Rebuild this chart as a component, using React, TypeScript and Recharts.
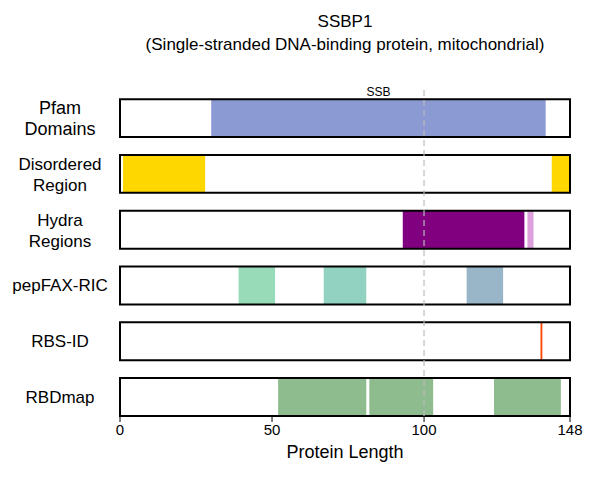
import React from "react";
import { ComposedChart, XAxis, YAxis, ReferenceArea, ReferenceLine, Label, Line } from "recharts";

const tracks = ["Pfam\nDomains", "Disordered\nRegion", "Hydra\nRegions", "pepFAX-RIC", "RBS-ID", "RBDmap"];
const segStart = [30, 1, 142, 93, 134, 39, 67, 114, 138.3, 52, 82, 123];
const segEnd = [140, 28, 148, 133, 136, 51, 81, 126, 138.9, 81, 103, 145];
const segTrack = [0, 1, 1, 2, 2, 3, 3, 3, 4, 5, 5, 5];
const segColor = ["#8c9ad4", "#ffd700", "#ffd700", "#800080", "#dda0dd", "#98dbb8", "#91d3c0", "#98b6c8", "#ff4500", "#8fbc8f", "#8fbc8f", "#8fbc8f"];
const xTicks = [0, 50, 100, 148];
const H = 0.68;
const font = "'Liberation Sans', Arial, sans-serif";
const anchor = xTicks.map((x) => ({ x, y: 0 }));

const TrackTick = (props: any) => {
  const { x, y, payload } = props;
  const i = Math.round(payload.value - H / 2);
  const lines = tracks[i].split("\n");
  const big = i === 0;
  return (
    <text x={x - 52} y={y} textAnchor="middle" fontSize={big ? 18 : 17} fill="#000"
      fontFamily={big ? font : "'Liberation Sans Narrow', 'Arial Narrow', sans-serif"}>
      {lines.map((l, k) => (
        <tspan key={k} x={x - 52} dy={k === 0 ? (lines.length === 1 ? 6 : -4) : 21}>{l}</tspan>
      ))}
    </text>
  );
};

export default function App() {
  return (
    <div style={{ position: "absolute", left: 0, top: 0, width: 600, height: 480, background: "#fff", fontFamily: font }}>
      <div style={{ position: "absolute", left: 45, width: 600, top: 10, textAlign: "center", fontSize: 17, lineHeight: "23px" }}>
        SSBP1<br />(Single-stranded DNA-binding protein, mitochondrial)
      </div>
      <ComposedChart width={600} height={480} data={anchor} margin={{ top: 88, right: 30, bottom: 22, left: 8 }}
        style={{ position: "absolute", left: 0, top: 0 }}>
        <XAxis type="number" dataKey="x" domain={[0, 148]} ticks={xTicks} axisLine={false}
          tick={{ fill: "#000", fontSize: 15, fontFamily: font }} tickSize={6} tickLine={{ stroke: "#000" }} height={42}>
          <Label value="Protein Length" position="insideBottom" offset={0} fill="#000" fontSize={18} fontFamily={font} />
        </XAxis>
        <YAxis type="number" dataKey="y" domain={[-0.2, 5 + H]} reversed width={112} axisLine={false} tickLine={false}
          ticks={tracks.map((_, i) => i + H / 2)} tick={<TrackTick />} interval={0} />
        <Line dataKey="y" stroke="none" dot={false} isAnimationActive={false} />
        {segStart.map((s, k) => (
          <ReferenceArea key={"s" + k} x1={s} x2={segEnd[k]} y1={segTrack[k]} y2={segTrack[k] + H}
            fill={segColor[k]} fillOpacity={1} stroke="none" ifOverflow="visible" />
        ))}
        <ReferenceLine x={100} stroke="#bbb" strokeWidth={2} strokeDasharray="6 4" strokeOpacity={0.6} ifOverflow="visible" />
        {tracks.map((_, i) => (
          <ReferenceArea key={"b" + i} x1={0} x2={148} y1={i} y2={i + H} fill="none" stroke="#000" strokeWidth={2} ifOverflow="visible" />
        ))}
        <ReferenceArea x1={30} x2={140} y1={-0.2} y2={-0.05} fill="none" stroke="none" ifOverflow="visible">
          <Label value="SSB" position="center" fill="#000" fontSize={12} fontFamily={font} />
        </ReferenceArea>
      </ComposedChart>
    </div>
  );
}
